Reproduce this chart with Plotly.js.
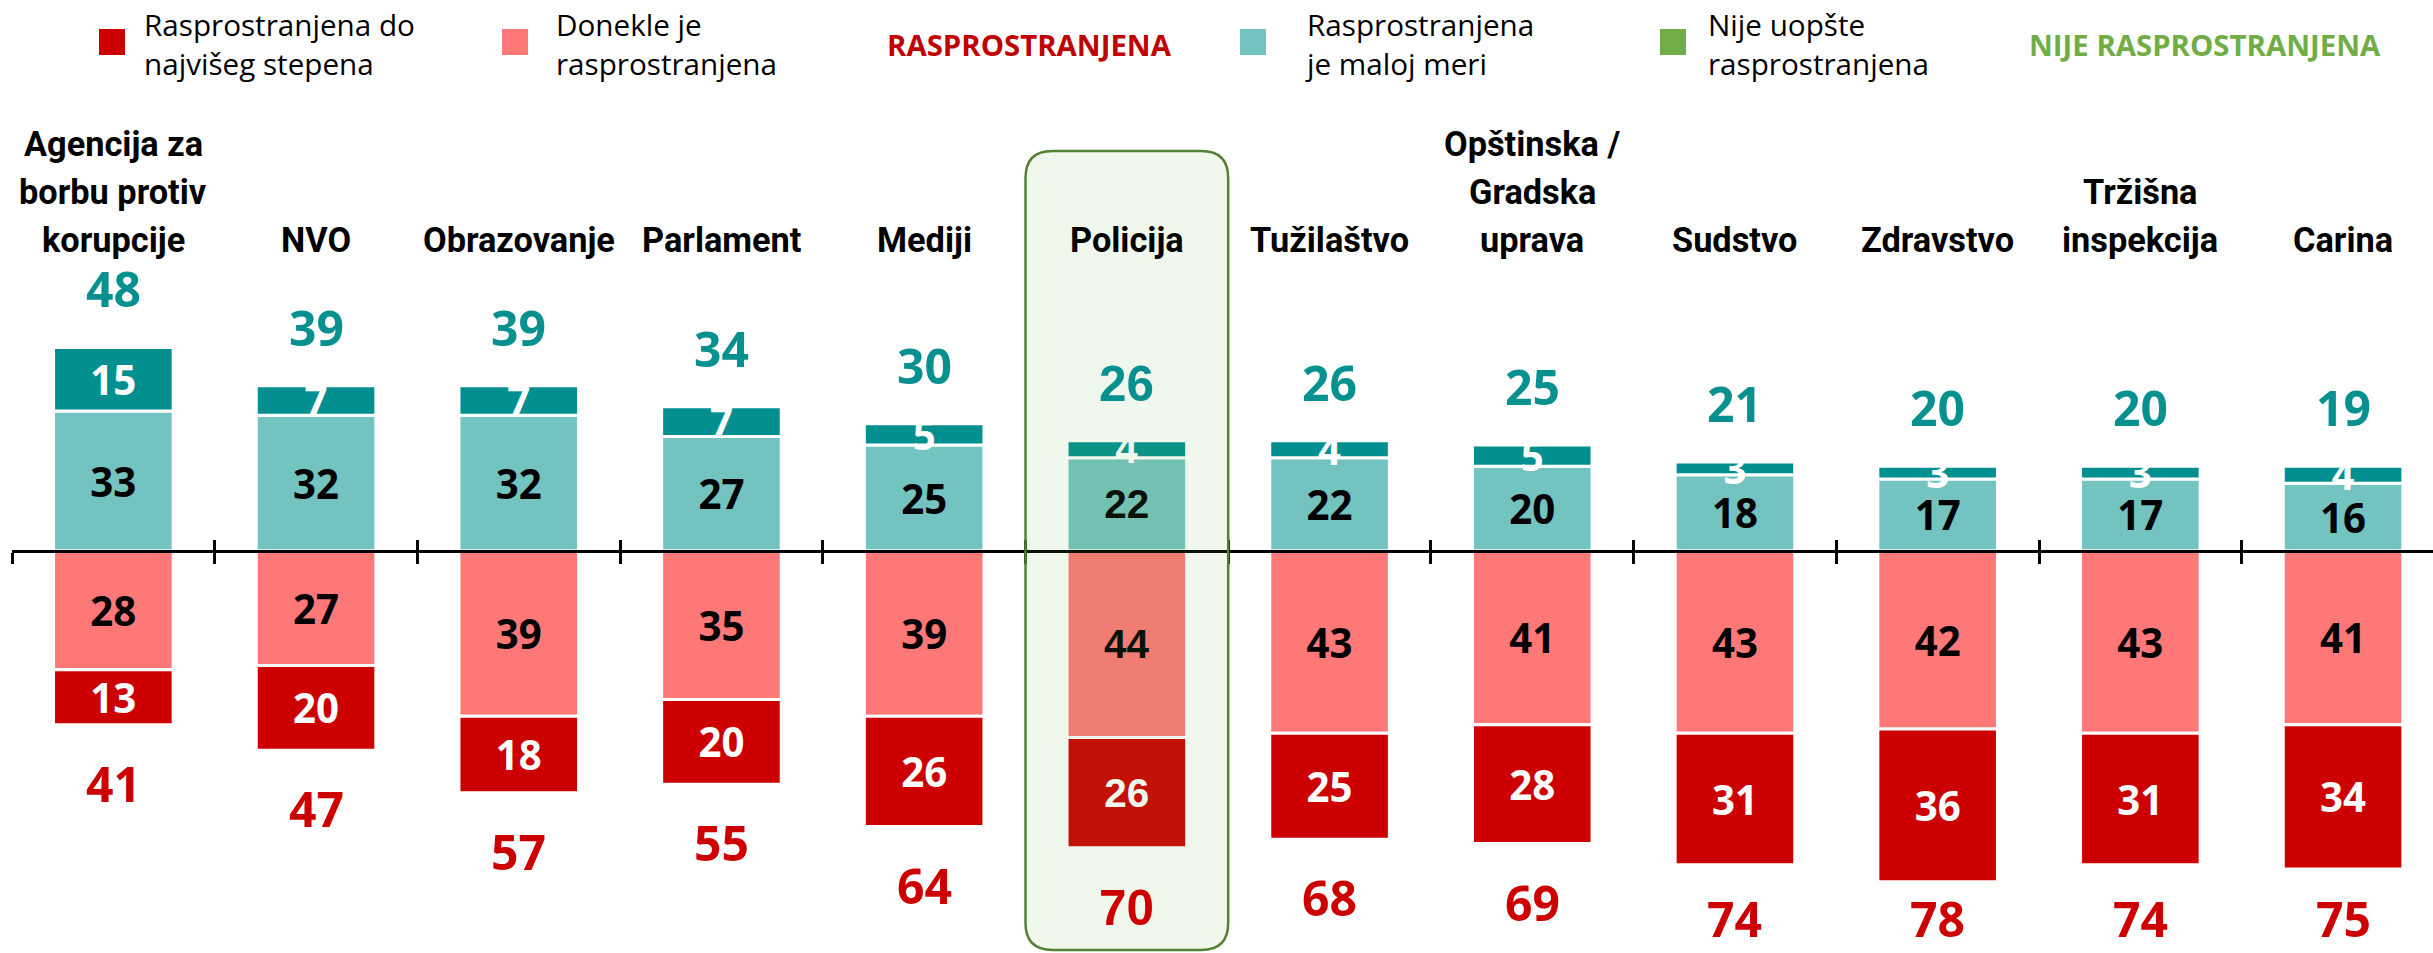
<!DOCTYPE html>
<html><head><meta charset="utf-8">
<script src="https://cdn.plot.ly/plotly-3.0.1.min.js"></script>
<style>html,body{margin:0;padding:0;background:#fff;overflow:hidden}#chart{width:2433px;height:953px}</style>
</head><body><div id="chart"></div>
<script>
// ---------------- DATA ----------------
const categories = ['Agencija za borbu protiv korupcije','NVO','Obrazovanje','Parlament','Mediji','Policija','Tužilaštvo','Opštinska / Gradska uprava','Sudstvo','Zdravstvo','Tržišna inspekcija','Carina'];
const categoryLabels = ['Agencija za<br>borbu protiv<br>korupcije','NVO','Obrazovanje','Parlament','Mediji','Policija','Tužilaštvo','Opštinska /<br>Gradska<br>uprava','Sudstvo','Zdravstvo','Tržišna<br>inspekcija','Carina'];
const malojMeri   = [33,32,32,27,25,22,22,20,18,17,17,16];   // Rasprostranjena je maloj meri
const nijeUopste  = [15, 7, 7, 7, 5, 4, 4, 5, 3, 3, 3, 4];   // Nije uopšte rasprostranjena
const donekle     = [28,27,39,35,39,44,43,41,43,42,43,41];   // Donekle je rasprostranjena
const najvise     = [13,20,18,20,26,26,25,28,31,36,31,34];   // Rasprostranjena do najvišeg stepena
const totalNije   = [48,39,39,34,30,26,26,25,21,20,20,19];   // NIJE RASPROSTRANJENA
const totalRasp   = [41,47,57,55,64,70,68,69,74,78,74,75];   // RASPROSTRANJENA
const legendNames = ['Rasprostranjena do<br>najvišeg stepena','Donekle je<br>rasprostranjena','Rasprostranjena<br>je maloj meri','Nije uopšte<br>rasprostranjena'];
const groupNames  = ['RASPROSTRANJENA','NIJE RASPROSTRANJENA'];
const highlighted = 'Policija';

// ---------------- STYLE / GEOMETRY ----------------
const W = 2433, H = 953, L = 12;
const zeroPx = 551, pxPerUnit = 4.24, catPx = 202.7;
const yr = [-(H - zeroPx) / pxPerUnit, zeroPx / pxPerUnit];
const xr = [-0.5, -0.5 + (W - L) / catPx];
const C = {najvise:'#CC0000', donekle:'#FF7878', maloj:'#73C3C0', nije:'#028F8F',
           legendNije:'#70AD47', tealText:'#069090', redText:'#CC0000', raspLabel:'#C00000'};

const cv = document.createElement('canvas').getContext('2d');
const fs = (w,s,f) => `${w} ${s}px ${f}`;
function widthOf(t,w,s,f){cv.font=fs(w,s,f);return cv.measureText(t).width;}
function fit(t,w,f,target){return 100*target/widthOf(t,w,100,f);}
function met(t,w,s,f){cv.font=fs(w,s,f);const m=cv.measureText(t);
  return {asc:m.fontBoundingBoxAscent, desc:m.fontBoundingBoxDescent, cap:m.actualBoundingBoxAscent, bot:m.actualBoundingBoxDescent};}
function hasFont(name){const t='AgencijaObrazovanje0123';cv.font='bold 40px monospace';const a=cv.measureText(t).width;
  cv.font=`bold 40px "${name}", monospace`;return Math.abs(cv.measureText(t).width-a)>0.5;}

const narrow = hasFont('Liberation Sans Narrow');
const catFam = narrow ? '"Liberation Sans Narrow"' : (hasFont('Roboto') ? 'Roboto' : '"Liberation Sans"');
const numFam = '"Open Sans"';
const polFam = '"Liberation Sans"';
const catSize = fit('Obrazovanje','bold',catFam, narrow ? 185 : 192);
const innerSize = fit('33','bold',numFam,46);
const totSize = fit('48','bold',numFam,55);
const polInner = fit('44','bold',polFam,45);
const polTot = fit('26','bold',polFam,55);
const legSize = fit('Rasprostranjena do','normal',numFam,271);
const grpSize = fit('RASPROSTRANJENA','bold',numFam,284);

const py = px => 1 - px / H;
const pxX = px => (px - L) / (W - L);
const idx = categories.map((c,i)=>i);
const hi = categories.indexOf(highlighted);

// ---------------- TRACES ----------------
function barTrace(name, vals, sign, color, txtColor){
  return {type:'bar', name, x:idx, y:vals.map(v=>sign*v),
    marker:{color, line:{color:'#FFFFFF', width:3}},
    text:vals.map(String), textposition:'inside', insidetextanchor:'middle', textangle:0,
    constraintext:'none', cliponaxis:false,
    textfont:{family:idx.map(i=>i===hi?polFam:numFam), size:idx.map(i=>i===hi?polInner:innerSize), color:txtColor, weight:'bold'},
    hoverinfo:'skip', showlegend:false};
}
const traces = [
  barTrace(legendNames[2], malojMeri, 1, C.maloj, '#000000'),
  barTrace(legendNames[3], nijeUopste, 1, C.nije, '#FFFFFF'),
  barTrace(legendNames[1], donekle, -1, C.donekle, '#000000'),
  barTrace(legendNames[0], najvise, -1, C.najvise, '#FFFFFF'),
  {type:'scatter', x:[], y:[], xaxis:'x2', showlegend:false, hoverinfo:'skip'}
];

// ---------------- ANNOTATIONS ----------------
const ann = [];
const catM = met('Agencija','bold',catSize,catFam);
const catLine = 48, catBase = 252;
idx.forEach(i=>{
  const lines = categoryLabels[i].split('<br>');
  lines.forEach((ln,k)=>{
    const base = catBase - (lines.length-1-k)*catLine;
    ann.push({x:i, xref:'x', y:py(base + catM.desc), yref:'paper', yanchor:'bottom', xanchor:'center',
      text:ln, showarrow:false, align:'center', borderwidth:0, borderpad:0,
      font:{family:catFam, size:catSize, color:'#000000', weight:'bold'}});
  });
  const fam = i===hi?polFam:numFam, sz = i===hi?polTot:totSize;
  const m = met('0123456789','bold',sz,fam);
  ann.push({x:i, xref:'x', y:malojMeri[i]+nijeUopste[i], yref:'y', yanchor:'bottom', xanchor:'center',
    yshift:40 - m.desc, text:String(totalNije[i]), showarrow:false, borderwidth:0, borderpad:0,
    font:{family:fam, size:sz, color:C.tealText, weight:'bold'}});
  // red total below the bar; keep it inside the picture near the bottom edge
  const barBottomPx = zeroPx + (donekle[i]+najvise[i]) * pxPerUnit;
  const gap = Math.min(41, (H - m.desc) - m.cap - barBottomPx + (m.cap - m.cap));
  const digitTop = barBottomPx + Math.min(41, H - 2 - (m.asc + m.desc) + (m.asc - m.cap) - barBottomPx);
  ann.push({x:i, xref:'x', y:-(donekle[i]+najvise[i]), yref:'y', yanchor:'top', xanchor:'center',
    yshift:-(digitTop - barBottomPx + m.cap - m.asc), text:String(totalRasp[i]), showarrow:false, borderwidth:0, borderpad:0,
    font:{family:fam, size:sz, color:C.redText, weight:'bold'}});
});

// legend (custom, to match the reference layout)
const legM = met('R','normal',legSize,numFam);
const legendItems = [
  {sq:99,  tx:144,  color:C.najvise, name:legendNames[0]},
  {sq:502, tx:556,  color:C.donekle, name:legendNames[1]},
  {sq:1240,tx:1305, color:C.maloj,   name:legendNames[2]},
  {sq:1660,tx:1708, color:C.legendNije, name:legendNames[3]}
];
const shapes = [];
legendItems.forEach(it=>{
  shapes.push({type:'rect', xref:'paper', yref:'paper', x0:pxX(it.sq), x1:pxX(it.sq+26), y0:py(55), y1:py(29),
    fillcolor:it.color, line:{width:0}});
  ann.push({x:pxX(it.tx), xref:'paper', y:py(36 - legM.asc), yref:'paper', xanchor:'left', yanchor:'top',
    text:it.name, align:'left', showarrow:false, borderwidth:0, borderpad:0,
    font:{family:numFam, size:legSize, color:'#000000'}});
});
const grpM = met('R','bold',grpSize,numFam);
[[1029, groupNames[0], C.raspLabel],[2205, groupNames[1], C.legendNije]].forEach(([cx,t,col])=>{
  ann.push({x:pxX(cx), xref:'paper', y:py(56 - grpM.asc), yref:'paper', xanchor:'center', yanchor:'top',
    text:t, showarrow:false, borderwidth:0, borderpad:0, font:{family:numFam, size:grpSize, color:col, weight:'bold'}});
});

// highlight box (rounded) around the highlighted category
(function(){
  const x0 = hi-0.5, x1 = hi+0.5, y0 = py(950), y1 = py(151);
  const rx = 27/catPx, ry = 27/H;
  const p = `M ${x0+rx},${y1} L ${x1-rx},${y1} Q ${x1},${y1} ${x1},${y1-ry} L ${x1},${y0+ry} Q ${x1},${y0} ${x1-rx},${y0} `+
            `L ${x0+rx},${y0} Q ${x0},${y0} ${x0},${y0+ry} L ${x0},${y1-ry} Q ${x0},${y1} ${x0+rx},${y1} Z`;
  shapes.push({type:'path', path:p, xref:'x', yref:'paper', layer:'above',
    fillcolor:'rgba(112,173,71,0.10)', line:{color:'#548235', width:2.5}});
})();

const pos = -yr[0] / (yr[1] - yr[0]);
const tickvals = idx.map(i=>i-0.5);
const axCommon = {type:'linear', range:xr, anchor:'free', position:pos, tickmode:'array', tickvals,
  showticklabels:false, showgrid:false, zeroline:false, ticklen:11, tickwidth:3, tickcolor:'#000000', fixedrange:true};

const layout = {
  width:W, height:H, margin:{l:L, r:0, t:0, b:0, pad:0},
  paper_bgcolor:'#FFFFFF', plot_bgcolor:'#FFFFFF',
  barmode:'relative', bargap:0.41, showlegend:false, hovermode:false,
  font:{family:numFam, color:'#000000'},
  xaxis:Object.assign({}, axCommon, {showline:true, linecolor:'#000000', linewidth:3, ticks:'outside'}),
  xaxis2:Object.assign({}, axCommon, {overlaying:'x', showline:false, ticks:'inside'}),
  yaxis:{range:yr, visible:false, showgrid:false, zeroline:false, fixedrange:true},
  annotations:ann, shapes
};
Plotly.newPlot('chart', traces, layout, {staticPlot:true, displayModeBar:false});
</script></body></html>
